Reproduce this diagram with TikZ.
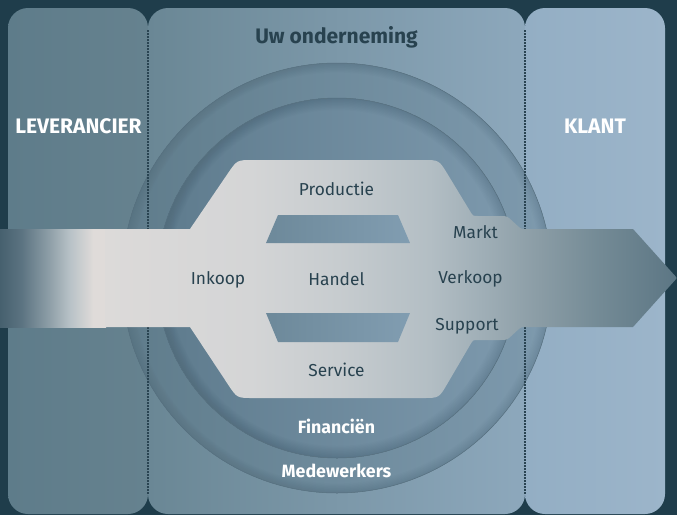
\documentclass[tikz,border=0pt]{standalone}
\usepackage{fontspec}
\setmainfont{Fira Sans}
\usetikzlibrary{calc}
\definecolor{bg}{HTML}{1F3D4B}
\definecolor{lpA}{HTML}{5E7C8A}
\definecolor{lpB}{HTML}{66828F}
\definecolor{mpA}{HTML}{6A8795}
\definecolor{mpB}{HTML}{8DA8BC}
\definecolor{rpA}{HTML}{93AEC4}
\definecolor{rpB}{HTML}{9CB5CA}
\definecolor{ocA}{HTML}{5F7C8B}
\definecolor{ocB}{HTML}{7E9AAE}
\definecolor{icA}{HTML}{5E7B8D}
\definecolor{icB}{HTML}{7D99AD}
\definecolor{edge}{HTML}{566F7E}
\definecolor{shadow}{HTML}{2F4856}
\definecolor{dots}{HTML}{2A4452}
\definecolor{trA}{HTML}{6D899A}
\definecolor{trB}{HTML}{819DB1}
\definecolor{txt}{HTML}{28424F}
\definecolor{lsA}{HTML}{DCDAD9}
\definecolor{lsB}{HTML}{D4D5D6}
\definecolor{lsC}{HTML}{C7CCCF}
\definecolor{lsD}{HTML}{B3BEC4}
\definecolor{lsE}{HTML}{A0AFB7}
\definecolor{lsF}{HTML}{8A9CA5}
\definecolor{lsG}{HTML}{738A95}
\definecolor{lsH}{HTML}{5C7684}
\definecolor{lfA}{HTML}{46606E}
\definecolor{lfB}{HTML}{5B7381}
\definecolor{lfC}{HTML}{8D9EA7}
\definecolor{lfD}{HTML}{B8C2C7}
\definecolor{lfE}{HTML}{DFDBD9}
\pgfdeclarehorizontalshading{lightsh}{100bp}{color(0bp)=(lsA); color(25bp)=(lsA); color(37.7bp)=(lsB); color(45.3bp)=(lsC); color(53.4bp)=(lsD); color(57.8bp)=(lsE); color(63bp)=(lsF); color(68.3bp)=(lsG); color(75bp)=(lsH); color(100bp)=(lsH)}
\pgfdeclarehorizontalshading{leftsh}{100bp}{color(0bp)=(lfA); color(25bp)=(lfA); color(35bp)=(lfB); color(48bp)=(lfC); color(58bp)=(lfD); color(69bp)=(lfE); color(75bp)=(lfE); color(100bp)=(lfE)}
\tikzset{
  panel/.style={rounded corners=20pt},
  ring/.style={draw=edge, line width=0.5pt},
  dotline/.style={dots, line width=1.6pt, dash pattern=on 1.6pt off 1.4pt},
  slot/.style={left color=trA, right color=trB},
  lbl/.style={text=txt, font=\fontsize{17.3}{19}\selectfont, anchor=base, inner sep=0pt},
  wlbl/.style={text=white, font=\fontsize{17.8}{19}\selectfont\bfseries, anchor=base, inner sep=0pt},
  ttl/.style={text=white, font=\fontsize{21}{23}\selectfont\bfseries, anchor=base, inner sep=0pt},
}
\begin{document}
\begin{tikzpicture}[x=1pt,y=-1pt]
\fill[bg] (0,0) rectangle (677,515);
\useasboundingbox (0,0) rectangle (677,515);
% panels
\shade[panel, left color=lpA, right color=lpB] (8,8) rectangle (148,514);
\shade[panel, left color=mpA, right color=mpB] (148,8) rectangle (525,514);
\shade[panel, left color=rpA, right color=rpB] (525,8) rectangle (665,514);
% circles
\coordinate (O) at (337,278);
\shade[left color=ocA, right color=ocB] (O) circle (215);
\begin{scope}
  \clip (O) circle (215);
  \foreach \k in {1,...,8} \draw[shadow, opacity=0.018, line width=2.4*\k pt] (O) circle (215);
\end{scope}
\draw[ring] (O) circle (215);
\shade[left color=icA, right color=icB] (O) circle (180);
\begin{scope}
  \clip (O) circle (180);
  \foreach \k in {1,...,10} \draw[shadow, opacity=0.022, line width=2.4*\k pt] (O) circle (180);
\end{scope}
\draw[ring] (O) circle (180);
% dotted separators
\draw[dotline] (148,30) -- (148,495);
\draw[dotline] (525,30) -- (525,495);
% process shape
\coordinate (A) at (105,229);
\coordinate (B) at (190,229);
\coordinate (C) at (237,160);
\coordinate (D) at (439,160);
\coordinate (E) at (473,216);
\coordinate (F) at (507,216);
\coordinate (G) at (521,229);
\coordinate (H) at (633,229);
\coordinate (T) at (677,278);
\coordinate (H2) at (633,327);
\coordinate (G2) at (521,327);
\coordinate (F2) at (507,340);
\coordinate (E2) at (473,340);
\coordinate (D2) at (439,398);
\coordinate (C2) at (237,398);
\coordinate (B2) at (190,327);
\coordinate (A2) at (105,327);
\shade[shading=leftsh] (0,229) rectangle (106,327);
\shade[shading=lightsh] (A) -- (B)
  -- ($(C)!16pt!(B)$) .. controls (C) .. ($(C)!16pt!(D)$)
  -- ($(D)!16pt!(C)$) .. controls (D) .. ($(D)!16pt!(E)$)
  -- ($(E)!5pt!(D)$) .. controls (E) .. ($(E)!5pt!(F)$)
  -- ($(F)!7pt!(E)$) .. controls (F) .. ($(F)!7pt!(G)$)
  -- ($(G)!6pt!(F)$) .. controls (G) .. ($(G)!6pt!(H)$)
  -- (H) -- (T) -- (H2)
  -- ($(G2)!6pt!(H2)$) .. controls (G2) .. ($(G2)!6pt!(F2)$)
  -- ($(F2)!7pt!(G2)$) .. controls (F2) .. ($(F2)!7pt!(E2)$)
  -- ($(E2)!5pt!(F2)$) .. controls (E2) .. ($(E2)!5pt!(D2)$)
  -- ($(D2)!16pt!(E2)$) .. controls (D2) .. ($(D2)!16pt!(C2)$)
  -- ($(C2)!16pt!(D2)$) .. controls (C2) .. ($(C2)!16pt!(B2)$)
  -- (B2) -- (A2) -- cycle;
% slots
\shade[slot] (278,215) -- (398,215) -- (410,243) -- (266,243) -- cycle;
\shade[slot] (266,313) -- (410,313) -- (398,342) -- (278,342) -- cycle;
% labels
\node[ttl, text=txt] (uw) at (336.5,43) {Uw onderneming};
\node[ttl] (lev) at (78.5,133) {LEVERANCIER};
\node[ttl] (kl) at (595,133) {KLANT};
\node[lbl] (prod) at (336.5,195) {Productie};
\node[lbl] (ink) at (218,284) {Inkoop};
\node[lbl] (han) at (336.5,285) {Handel};
\node[lbl] (mar) at (475.5,238) {Markt};
\node[lbl] (ver) at (470.5,283) {Verkoop};
\node[lbl] (sup) at (467,330) {Support};
\node[lbl] (ser) at (336.5,376) {Service};
\node[wlbl] (fin) at (336.5,433) {Financiën};
\node[wlbl] (med) at (336.5,477) {Medewerkers};
\end{tikzpicture}
\end{document}
